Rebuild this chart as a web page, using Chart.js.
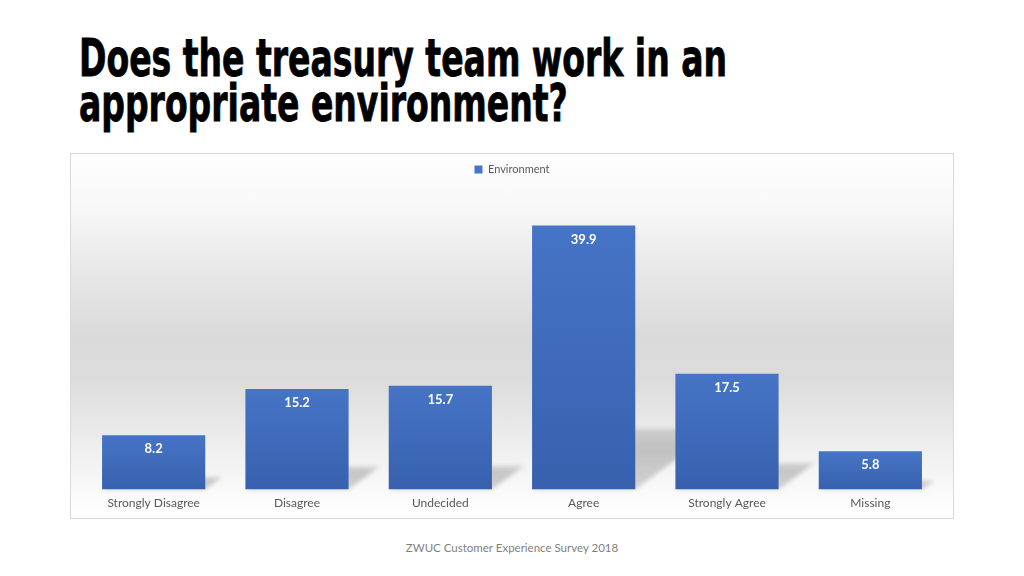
<!DOCTYPE html>
<html>
<head>
<meta charset="utf-8">
<script src="https://cdn.jsdelivr.net/npm/chart.js@4.4.1/dist/chart.umd.min.js"></script>
<style>
  html, body { margin: 0; padding: 0; background: #ffffff; }
  body { width: 1024px; height: 576px; position: relative; overflow: hidden; }
  #title {
    position: absolute; left: 79px; top: 36px;
    font-family: "Liberation Sans Narrow", "DejaVu Sans Condensed", sans-serif;
    font-weight: bold; font-size: 51px; line-height: 45px; color: #000;
    transform-origin: 0 0; white-space: nowrap;
    -webkit-text-stroke: 0.8px #000;
  }
  #box {
    position: absolute; left: 70px; top: 153px; width: 882px; height: 364px;
    border: 1px solid #d9d9d9;
    background: linear-gradient(to bottom, #fefefe 0%, #f8f8f8 14%, #e8e8e8 32%, #dadada 50%, #dcdcdc 62%, #ececec 78%, #fbfbfb 94%, #ffffff 100%);
  }
  #footer {
    position: absolute; left: 0; width: 1024px; top: 541px; text-align: center;
    font-family: Lato, "Open Sans", sans-serif; font-size: 11.5px; color: #7f7f7f;
  }
</style>
</head>
<body>
<div id="title">Does the treasury team work in an<br>appropriate environment?</div>
<div id="box"><canvas id="chart" width="882" height="364"></canvas></div>
<div id="footer">ZWUC Customer Experience Survey 2018</div>
<script>
var categories = ["Strongly Disagree", "Disagree", "Undecided", "Agree", "Strongly Agree", "Missing"];
var environment = [8.2, 15.2, 15.7, 39.9, 17.5, 5.8];
var seriesName = "Environment";

// squeeze the title so its first line is as wide as in the slide
var title = document.getElementById("title");
var probe = document.createElement("span");
probe.style.font = getComputedStyle(title).font;
probe.style.position = "absolute";
probe.style.whiteSpace = "nowrap";
probe.textContent = "Does the treasury team work in an";
document.body.appendChild(probe);
var sx = 648 / probe.getBoundingClientRect().width;
document.body.removeChild(probe);
title.style.transform = "scaleX(" + sx + ")";

function barFill(ctx) {
    var chart = ctx.chart;
    if (!chart.chartArea || !chart.scales.y) return "#4472c4";
    var y = chart.scales.y;
    var top = y.getPixelForValue(ctx.raw);
    var base = y.getPixelForValue(0);
    var g = chart.ctx.createLinearGradient(0, top, 0, base);
    g.addColorStop(0, "#4674c6");
    g.addColorStop(1, "#3761ad");
    return g;
}

var shadows = {
    id: "shadows",
    beforeDatasetsDraw: function(chart) {
        var c = chart.ctx;
        var meta = chart.getDatasetMeta(0);
        c.save();
        c.filter = "blur(2px)";
        meta.data.forEach(function(bar) {
            var w = bar.width, xl = bar.x - w / 2, xr = bar.x + w / 2;
            var h = bar.base - bar.y;
            var sh = h * 0.23, dx = sh * 1.35;
            var g = c.createLinearGradient(0, bar.base - sh, 0, bar.base);
            g.addColorStop(0, "rgba(120,120,120,0.25)");
            g.addColorStop(0.3, "rgba(120,120,120,0.38)");
            g.addColorStop(1, "rgba(120,120,120,0.30)");
            c.fillStyle = g;
            c.beginPath();
            c.moveTo(xl, bar.base);
            c.lineTo(xr, bar.base);
            c.lineTo(xr + dx, bar.base - sh);
            c.lineTo(xl + dx, bar.base - sh);
            c.closePath();
            c.fill();
        });
        c.restore();
    }
};

var valueLabels = {
    id: "valueLabels",
    afterDatasetsDraw: function(chart) {
        var c = chart.ctx;
        var meta = chart.getDatasetMeta(0);
        c.save();
        c.fillStyle = "#ffffff";
        c.font = "bold 13px Lato, 'Open Sans', sans-serif";
        c.textAlign = "center";
        c.textBaseline = "middle";
        meta.data.forEach(function(bar, i) {
            c.fillText(environment[i].toFixed(1), bar.x, bar.y + 14);
        });
        c.restore();
    }
};

new Chart(document.getElementById("chart"), {
    type: "bar",
    data: {
        labels: categories,
        datasets: [{
            label: seriesName,
            data: environment,
            backgroundColor: barFill,
            borderWidth: 0,
            categoryPercentage: 1,
            barPercentage: 0.72
        }]
    },
    options: {
        responsive: false,
        animation: false,
        layout: { padding: { left: 11, right: 11, top: 0, bottom: 2 } },
        plugins: {
            legend: {
                position: "top",
                labels: {
                    boxWidth: 8, boxHeight: 8, padding: 10, color: "#595959",
                    font: { family: "Lato, 'Open Sans', sans-serif", size: 11 }
                }
            },
            tooltip: { enabled: false }
        },
        scales: {
            x: {
                grid: { display: false, drawTicks: false },
                border: { display: false },
                ticks: {
                    padding: 6, color: "#595959",
                    font: { family: "Lato, 'Open Sans', sans-serif", size: 12 }
                }
            },
            y: { display: false, min: 0, max: 46 }
        }
    },
    plugins: [shadows, valueLabels]
});
</script>
</body>
</html>
